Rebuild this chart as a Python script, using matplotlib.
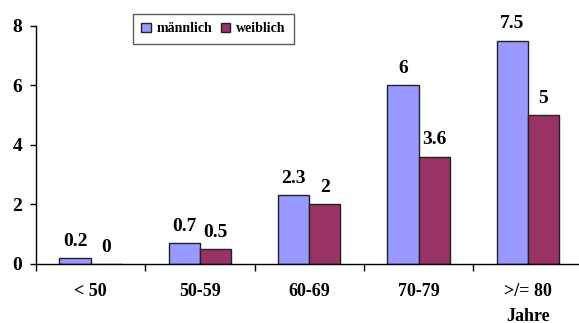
import matplotlib
matplotlib.use("Agg")
import matplotlib.pyplot as plt
import numpy as np
from matplotlib.patches import Patch

categories = ["< 50", "50-59", "60-69", "70-79", ">/= 80\nJahre"]
maennlich = [0.2, 0.7, 2.3, 6, 7.5]
weiblich = [0, 0.5, 2, 3.6, 5]
series_names = ["männlich", "weiblich"]
colors = ["#9999FF", "#993366"]

plt.rcParams["font.family"] = ["Liberation Serif", "DejaVu Serif"]
plt.rcParams["font.weight"] = "bold"

fig = plt.figure(figsize=(5.79, 3.23), dpi=100)
ax = fig.add_axes([36 / 579, 59 / 323, 546.5 / 579, 238.3 / 323])

x = np.arange(len(categories))
w = 0.285
edge = "#222222"
bars_m = ax.bar(x - w / 2, maennlich, w, color=colors[0], edgecolor=edge, linewidth=1.0)
bars_w = ax.bar(x + w / 2, weiblich, w, color=colors[1], edgecolor=edge, linewidth=1.0)

for bars, vals in ((bars_m, maennlich), (bars_w, weiblich)):
    for b, v in zip(bars, vals):
        ax.annotate(f"{v:g}", (b.get_x() + b.get_width() / 2, v),
                    xytext=(0, 6), textcoords="offset points",
                    ha="center", va="bottom", fontsize=14, fontweight="bold",
                    annotation_clip=False)

ax.set_xlim(-0.5, len(categories) - 0.5)
ax.set_ylim(0, 8)
ax.set_yticks([0, 2, 4, 6, 8])
ax.set_yticklabels(["0", "2", "4", "6", "8"], fontsize=14, fontweight="bold")

ax.set_xticks(x)
ax.set_xticklabels(categories, fontsize=13, fontweight="bold", linespacing=1.6)
ax.tick_params(axis="x", length=0, pad=14)
ax.set_xticks(np.arange(len(categories) + 1) - 0.5, minor=True)
ax.tick_params(axis="x", which="minor", length=5, width=1, direction="out")
ax.tick_params(axis="y", length=4, width=1, direction="out", pad=6)

for s in ("top", "right"):
    ax.spines[s].set_visible(False)
for s in ("left", "bottom"):
    ax.spines[s].set_linewidth(1.0)

handles = [Patch(facecolor=c, edgecolor=edge, linewidth=1.0) for c in colors]
leg = ax.legend(handles, series_names, loc="upper left",
                bbox_to_anchor=(133 / 579, 1 - 14 / 323), bbox_transform=fig.transFigure,
                ncol=2, frameon=True, fancybox=False,
                prop={"weight": "bold", "size": 10},
                handlelength=0.7, handleheight=0.7, handletextpad=0.4,
                columnspacing=0.6, borderpad=0.6, borderaxespad=0)
leg.get_frame().set_edgecolor("#333333")
leg.get_frame().set_linewidth(1.0)

fig.savefig("out.png", dpi=100)
